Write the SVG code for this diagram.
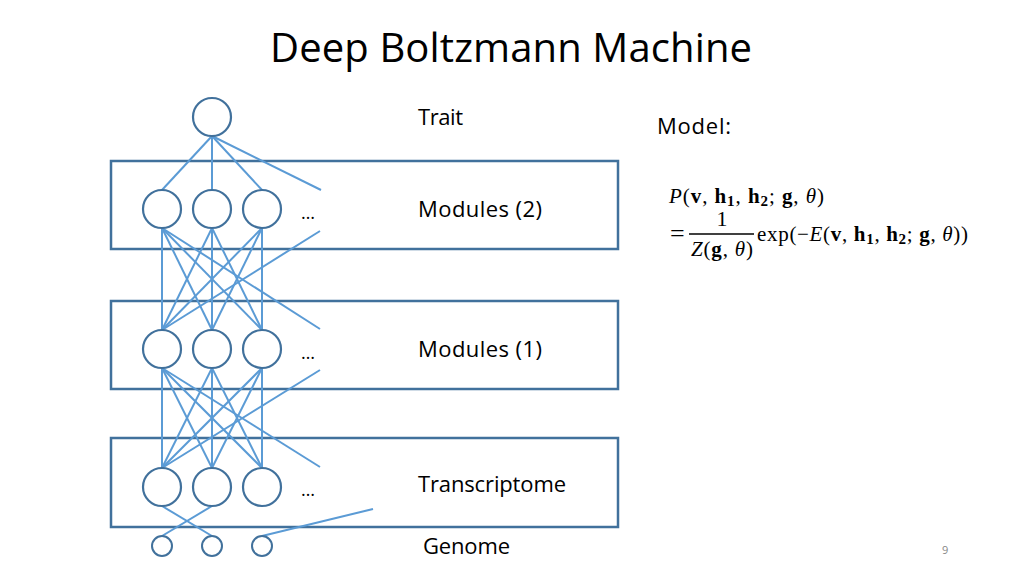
<svg xmlns="http://www.w3.org/2000/svg" width="1024" height="576" viewBox="0 0 1024 576">
<style>
.box{fill:none;stroke:#41719C;stroke-width:2.5}
.node{fill:#fff;stroke:#41719C;stroke-width:2.2}
.gnode{fill:#fff;stroke:#41719C;stroke-width:2}
.conn line{stroke:#5B9BD5;stroke-width:2}
.lbl{font-family:"Open Sans","Liberation Sans",sans-serif;font-size:22px;fill:#000}
.dots{font-family:"Open Sans","Liberation Sans",sans-serif;font-size:18px;fill:#000}
.math{font-family:"Liberation Serif","DejaVu Serif",serif;font-size:21px;fill:#000}
.it{font-style:italic}
.b{font-weight:bold}
</style>
<rect width="1024" height="576" fill="#fff"/>
<text x="270" y="62" font-family="'Open Sans','Liberation Sans',sans-serif" font-size="40" fill="#000" textLength="482">Deep Boltzmann Machine</text>

<g id="layer-boxes">
<rect id="box-modules2" class="box" x="111" y="161" width="507" height="88"/>
<rect id="box-modules1" class="box" x="111" y="301" width="507" height="88"/>
<rect id="box-transcriptome" class="box" x="111" y="438" width="507" height="89"/>
</g>

<g id="connectors" class="conn">
<line x1="212" y1="136" x2="162" y2="190"/>
<line x1="212" y1="136" x2="212" y2="190"/>
<line x1="212" y1="136" x2="262" y2="190"/>
<line x1="212" y1="136" x2="321" y2="190"/>

<line x1="162" y1="228" x2="162" y2="330"/>
<line x1="162" y1="228" x2="212" y2="330"/>
<line x1="162" y1="228" x2="262" y2="330"/>
<line x1="162" y1="228" x2="320" y2="329"/>
<line x1="212" y1="228" x2="162" y2="330"/>
<line x1="212" y1="228" x2="212" y2="330"/>
<line x1="212" y1="228" x2="262" y2="330"/>
<line x1="262" y1="228" x2="162" y2="330"/>
<line x1="262" y1="228" x2="212" y2="330"/>
<line x1="262" y1="228" x2="262" y2="330"/>
<line x1="320" y1="231" x2="162" y2="330"/>

<line x1="162" y1="368" x2="162" y2="468"/>
<line x1="162" y1="368" x2="212" y2="468"/>
<line x1="162" y1="368" x2="262" y2="468"/>
<line x1="162" y1="368" x2="320" y2="467"/>
<line x1="212" y1="368" x2="162" y2="468"/>
<line x1="212" y1="368" x2="212" y2="468"/>
<line x1="212" y1="368" x2="262" y2="468"/>
<line x1="262" y1="368" x2="162" y2="468"/>
<line x1="262" y1="368" x2="212" y2="468"/>
<line x1="262" y1="368" x2="262" y2="468"/>
<line x1="320" y1="370" x2="162" y2="468"/>

<line x1="162" y1="506" x2="212" y2="536"/>
<line x1="212" y1="506" x2="162" y2="536"/>
<line x1="262" y1="536" x2="373" y2="509"/>
</g>

<g id="trait"><circle class="node" cx="212" cy="117" r="19"/></g>
<g id="m2-1"><circle class="node" cx="162" cy="209" r="19"/></g>
<g id="m2-2"><circle class="node" cx="212" cy="209" r="19"/></g>
<g id="m2-3"><circle class="node" cx="262" cy="209" r="19"/></g>
<g id="m1-1"><circle class="node" cx="162" cy="349" r="19"/></g>
<g id="m1-2"><circle class="node" cx="212" cy="349" r="19"/></g>
<g id="m1-3"><circle class="node" cx="262" cy="349" r="19"/></g>
<g id="t-1"><circle class="node" cx="162" cy="487" r="19"/></g>
<g id="t-2"><circle class="node" cx="212" cy="487" r="19"/></g>
<g id="t-3"><circle class="node" cx="262" cy="487" r="19"/></g>
<g id="g-1"><circle class="gnode" cx="162" cy="546" r="10"/></g>
<g id="g-2"><circle class="gnode" cx="212" cy="546" r="10"/></g>
<g id="g-3"><circle class="gnode" cx="262" cy="546" r="10"/></g>

<g id="ellipses">
<text class="dots" x="301" y="219">…</text>
<text class="dots" x="301" y="359">…</text>
<text class="dots" x="301" y="496">…</text>
</g>

<g id="labels">
<text class="lbl" x="418" y="125" textLength="45">Trait</text>
<text class="lbl" x="418" y="217" textLength="124">Modules (2)</text>
<text class="lbl" x="418" y="357" textLength="124">Modules (1)</text>
<text class="lbl" x="418" y="492" textLength="148">Transcriptome</text>
<text class="lbl" x="423" y="554" textLength="87">Genome</text>
<text class="lbl" x="657" y="134" textLength="74">Model:</text>
</g>

<g id="formula" class="math">
<text x="669" y="203" textLength="155"><tspan class="it">P</tspan>(<tspan class="b">v</tspan>, <tspan class="b">h</tspan><tspan class="b" font-size="15" dy="3">1</tspan><tspan dy="-3">, </tspan><tspan class="b">h</tspan><tspan class="b" font-size="15" dy="3">2</tspan><tspan dy="-3">; </tspan><tspan class="b">g</tspan>, <tspan class="it">θ</tspan>)</text>
<text x="670" y="242" font-size="26">=</text>
<text x="722" y="226" text-anchor="middle" font-size="22">1</text>
<line x1="689" y1="234" x2="754" y2="234" stroke="#000" stroke-width="1.3"/>
<text x="691" y="256" textLength="62"><tspan class="it">Z</tspan>(<tspan class="b">g</tspan>, <tspan class="it">θ</tspan>)</text>
<text x="757" y="241" textLength="211">exp(−<tspan class="it">E</tspan>(<tspan class="b">v</tspan>, <tspan class="b">h</tspan><tspan class="b" font-size="15" dy="3">1</tspan><tspan dy="-3">, </tspan><tspan class="b">h</tspan><tspan class="b" font-size="15" dy="3">2</tspan><tspan dy="-3">; </tspan><tspan class="b">g</tspan>, <tspan class="it">θ</tspan>))</text>
</g>

<text x="942" y="554" font-family="'Open Sans','Liberation Sans',sans-serif" font-size="11" fill="#888">9</text>
</svg>
